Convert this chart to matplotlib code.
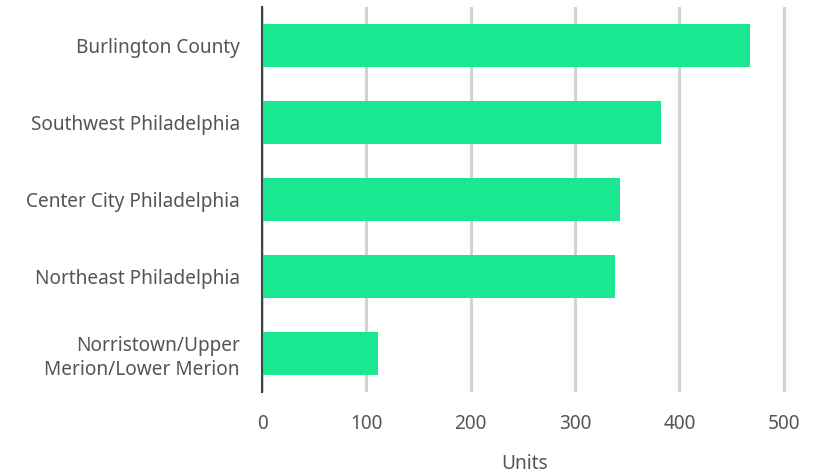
import matplotlib
matplotlib.use("Agg")
import matplotlib.pyplot as plt

regions = ["Burlington County", "Southwest Philadelphia", "Center City Philadelphia",
           "Northeast Philadelphia", "Norristown/Upper\nMerion/Lower Merion"]
units = [468, 382, 343, 338, 111]
xticks = [0, 100, 200, 300, 400, 500]

plt.rcParams['font.family'] = ['Noto Sans', 'DejaVu Sans']

fig = plt.figure(figsize=(8.25, 4.75), dpi=100)
# 1.044 px per unit, leave a little room past 500 so the last gridline isn't clipped
ax = fig.add_axes([262/825, 1-392/475, 526/825, (392-7)/475])

ax.barh(range(len(regions)), units, height=0.55, color="#1ae891", zorder=3)
ax.set_ylim(len(regions)-0.5, -0.5)
ax.set_xlim(0, 504)
ax.set_xticks(xticks)
ax.set_yticks(range(len(regions)))
ax.set_yticklabels(regions, ha="right", multialignment="right", linespacing=1.25)
ax.grid(axis="x", color="#ccd5d5", linewidth=2.2, zorder=0)
ax.set_axisbelow(True)
for s in ["top", "right", "bottom"]:
    ax.spines[s].set_visible(False)
ax.spines["left"].set_color("#37474f")
ax.spines["left"].set_linewidth(1.5)
ax.spines["left"].set_zorder(4)
ax.tick_params(axis="both", length=0, labelsize=13.7, labelcolor="#555555")
ax.tick_params(axis="x", pad=16)
ax.tick_params(axis="y", pad=16)
ax.set_xlabel("Units", fontsize=13.7, color="#555555", labelpad=14)

fig.savefig("out.png", dpi=100)
